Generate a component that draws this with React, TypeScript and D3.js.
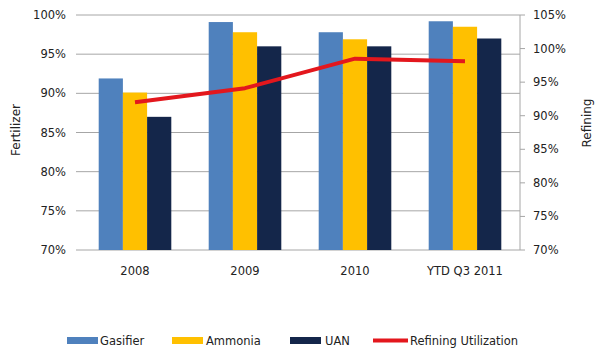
import React from "react";
import * as d3 from "d3";

const categories = ["2008", "2009", "2010", "YTD Q3 2011"];
const gasifier = [91.9, 99.1, 97.8, 99.2];
const ammonia = [90.1, 97.8, 96.9, 98.5];
const uan = [87.0, 96.0, 96.0, 97.0];
const refining = [92.0, 94.1, 98.5, 98.1];
const leftTicks = [70, 75, 80, 85, 90, 95, 100];
const rightTicks = [70, 75, 80, 85, 90, 95, 100, 105];

const seriesNames = ["Gasifier", "Ammonia", "UAN"];
const seriesColors = ["#4f81bd", "#ffc000", "#14264a"];
const lineColor = "#e3171d";

export default function App() {
  const W = 597, H = 353;
  const left = 80, right = 520, top = 15, bottom = 250;
  const x = d3.scaleBand().domain(categories).range([left, right]).paddingInner(0.34).paddingOuter(0.17);
  const xc = d3.scaleBand().domain(categories).range([left, right]);
  const yL = d3.scaleLinear().domain([70, 100]).range([bottom, top]);
  const yR = d3.scaleLinear().domain([70, 105]).range([bottom, top]);
  const inner = d3.scaleBand().domain(seriesNames).range([0, x.bandwidth()]);
  const data = [gasifier, ammonia, uan];
  const font = "'DejaVu Sans', Verdana, sans-serif";
  const line = d3.line<number>()
    .x((_, i) => (xc(categories[i]) as number) + xc.bandwidth() / 2)
    .y((d) => yR(d));

  const legend = [
    { name: "Gasifier", color: seriesColors[0], sx: 67, tx: 100, type: "bar" },
    { name: "Ammonia", color: seriesColors[1], sx: 172, tx: 206, type: "bar" },
    { name: "UAN", color: seriesColors[2], sx: 290, tx: 325, type: "bar" },
    { name: "Refining Utilization", color: lineColor, sx: 373, tx: 410, type: "line" },
  ];

  return (
    <svg width={W} height={H} style={{ position: "absolute", left: 0, top: 0, background: "#fff" }} fontFamily={font}>
      {leftTicks.map((t) => (
        <g key={"g" + t}>
          <line x1={left - 4} x2={right} y1={yL(t)} y2={yL(t)} stroke="#a6a6a6" strokeWidth={1} />
          <text x={66} y={yL(t)} dy="0.35em" textAnchor="end" fontSize={11.5} fill="#222">{t}%</text>
        </g>
      ))}
      <line x1={right} x2={right} y1={top} y2={bottom} stroke="#a6a6a6" />
      {rightTicks.map((t) => (
        <g key={"r" + t}>
          <line x1={right} x2={right + 5} y1={yR(t)} y2={yR(t)} stroke="#a6a6a6" />
          <text x={533} y={yR(t)} dy="0.35em" textAnchor="start" fontSize={11.5} fill="#222">{t}%</text>
        </g>
      ))}
      {categories.map((c, i) => (
        <g key={c}>
          {data.map((s, j) => (
            <rect key={j}
              x={(x(c) as number) + (inner(seriesNames[j]) as number)}
              y={yL(s[i])}
              width={inner.bandwidth()}
              height={bottom - yL(s[i])}
              fill={seriesColors[j]} />
          ))}
          <text x={(xc(c) as number) + xc.bandwidth() / 2} y={271} dy="0.35em" textAnchor="middle" fontSize={11.5} fill="#222">{c}</text>
        </g>
      ))}
      <path d={line(refining) || ""} fill="none" stroke={lineColor} strokeWidth={4} strokeLinejoin="round" strokeLinecap="butt" />
      <text transform="translate(16,130) rotate(-90)" textAnchor="middle" dy="0.35em" fontSize={12} fill="#222">Fertilizer</text>
      <text transform="translate(587,123) rotate(-90)" textAnchor="middle" dy="0.35em" fontSize={12} fill="#222">Refining</text>
      {legend.map((l) => (
        <g key={l.name}>
          {l.type === "bar" ? (
            <rect x={l.sx} y={337} width={31} height={7} fill={l.color} />
          ) : (
            <line x1={l.sx} x2={l.sx + 35} y1={340.5} y2={340.5} stroke={l.color} strokeWidth={4} />
          )}
          <text x={l.tx} y={340.5} dy="0.35em" fontSize={11.5} fill="#222">{l.name}</text>
        </g>
      ))}
    </svg>
  );
}
